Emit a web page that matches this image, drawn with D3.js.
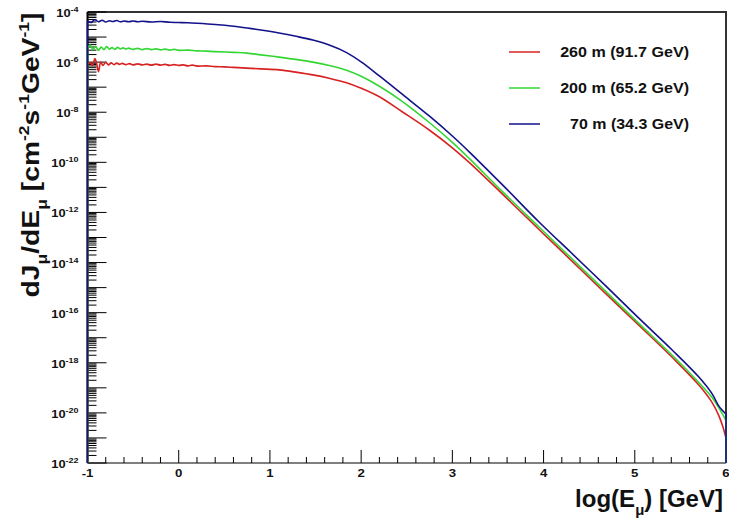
<!DOCTYPE html>
<html>
<head>
<meta charset="utf-8">
<script src="https://cdn.jsdelivr.net/npm/d3@7"></script>
<style>
  body { margin: 0; background: #fff; }
  svg { display: block; }
  text { font-family: "Liberation Sans", Arial, Helvetica, sans-serif; font-weight: bold; fill: #111; }
</style>
</head>
<body>
<svg id="chart" width="729" height="518"></svg>
<script>
// Muon flux spectra dJ/dE vs log10(E) for three depths (log10 of flux at each energy)
const logE260 = [-1.00,-0.97,-0.945,-0.92,-0.90,-0.88,-0.855,-0.83,-0.80,-0.77,-0.74,-0.71,-0.68,-0.65,-0.62,-0.58,-0.54,-0.50,-0.45,-0.40,-0.35,-0.30,-0.25,-0.20,-0.15,-0.10,-0.05,0.00,0.05,0.10,0.15,0.20,0.30,0.40,0.50,0.60,0.75,0.90,1.10,1.30,1.47,1.65,1.84,2.00,2.20,2.45,2.75,3.00,3.19,3.55,3.95,4.30,4.69,5.05,5.41,5.70,5.85,5.92,5.97,6.00];
const logJ260 = [-6.08,-6.03,-6.13,-5.86,-6.05,-6.38,-6.00,-6.13,-6.01,-6.11,-6.03,-6.10,-6.04,-6.09,-6.05,-6.10,-6.06,-6.11,-6.07,-6.11,-6.08,-6.12,-6.08,-6.12,-6.09,-6.13,-6.10,-6.13,-6.11,-6.15,-6.12,-6.16,-6.15,-6.18,-6.19,-6.21,-6.24,-6.27,-6.31,-6.41,-6.51,-6.645,-6.82,-7.04,-7.38,-7.98,-8.72,-9.42,-10.02,-11.27,-12.68,-13.90,-15.27,-16.52,-17.78,-18.88,-19.60,-20.10,-20.60,-21.00];

const logE200 = [-1.00,-0.97,-0.94,-0.91,-0.88,-0.85,-0.82,-0.79,-0.76,-0.73,-0.70,-0.67,-0.64,-0.61,-0.58,-0.55,-0.50,-0.45,-0.40,-0.35,-0.30,-0.25,-0.20,-0.15,-0.10,-0.05,0.00,0.10,0.20,0.30,0.40,0.60,0.75,0.90,1.10,1.30,1.47,1.65,1.84,2.00,2.20,2.45,2.75,3.00,3.19,3.55,3.95,4.30,4.69,5.05,5.41,5.70,5.85,5.93,6.00];
const logJ200 = [-5.44,-5.32,-5.50,-5.37,-5.53,-5.40,-5.50,-5.38,-5.48,-5.42,-5.49,-5.41,-5.47,-5.43,-5.48,-5.44,-5.49,-5.45,-5.50,-5.46,-5.50,-5.47,-5.51,-5.48,-5.52,-5.49,-5.53,-5.52,-5.55,-5.56,-5.58,-5.61,-5.64,-5.71,-5.80,-5.90,-6.00,-6.135,-6.325,-6.565,-6.965,-7.565,-8.42,-9.20,-9.86,-11.17,-12.58,-13.81,-15.18,-16.45,-17.70,-18.78,-19.40,-19.85,-20.30];

const logE70 = [-1.00,-0.96,-0.92,-0.88,-0.84,-0.80,-0.76,-0.72,-0.68,-0.64,-0.60,-0.55,-0.50,-0.45,-0.40,-0.30,-0.20,-0.10,0.00,0.10,0.20,0.40,0.60,0.75,0.90,1.10,1.30,1.47,1.65,1.84,2.00,2.20,2.45,2.75,3.00,3.19,3.55,3.95,4.30,4.69,5.05,5.41,5.70,5.85,5.92,6.00];
const logJ70 = [-4.36,-4.42,-4.31,-4.39,-4.33,-4.40,-4.35,-4.38,-4.34,-4.39,-4.36,-4.39,-4.36,-4.39,-4.37,-4.40,-4.38,-4.41,-4.42,-4.43,-4.45,-4.50,-4.57,-4.64,-4.72,-4.84,-4.98,-5.12,-5.32,-5.62,-5.99,-6.55,-7.28,-8.16,-8.95,-9.60,-10.90,-12.38,-13.60,-14.96,-16.24,-17.49,-18.56,-19.25,-19.72,-20.05];

const seriesLabels = ["260 m (91.7 GeV)", "200 m (65.2 GeV)", "70 m (34.3 GeV)"];
const seriesColors = ["#d82222", "#33d633", "#12128a"];

const xTickValues = [-1, 0, 1, 2, 3, 4, 5, 6];
const yLabelExponents = [-22, -20, -18, -16, -14, -12, -10, -8, -6, -4];

const svg = d3.select("#chart");
const W = 729, H = 518;
svg.append("rect").attr("width", W).attr("height", H).attr("fill", "#fff");

const x = d3.scaleLinear().domain([-1, 6]).range([87.5, 726]);
const y = d3.scaleLog().domain([1e-22, 1e-4]).range([463, 12]);
const yBottom = y(1e-22);

// frame (top and right)
svg.append("path")
  .attr("d", `M${x(-1)},${y(1e-4)}H${x(6)}V${yBottom}`)
  .attr("fill", "none").attr("stroke", "#333").attr("stroke-width", 2);

// x axis
const gx = svg.append("g");
gx.append("line").attr("x1", x(-1)).attr("x2", x(6)).attr("y1", yBottom).attr("y2", yBottom)
  .attr("stroke", "#000").attr("stroke-width", 1.2);
const xMinor = d3.range(-1, 6.001, 0.2).filter(v => Math.abs(v - Math.round(v)) > 1e-6);
gx.selectAll("line.minor").data(xMinor).join("line").attr("class", "minor")
  .attr("x1", d => x(d)).attr("x2", d => x(d)).attr("y1", yBottom).attr("y2", yBottom - 6)
  .attr("stroke", "#000").attr("stroke-width", 1);
gx.selectAll("line.major").data(xTickValues).join("line").attr("class", "major")
  .attr("x1", d => x(d)).attr("x2", d => x(d)).attr("y1", yBottom).attr("y2", yBottom - 13)
  .attr("stroke", "#000").attr("stroke-width", 1);
gx.selectAll("text").data(xTickValues).join("text")
  .attr("transform", d => `translate(${x(d)},${yBottom + 14}) scale(1.15,1)`)
  .attr("text-anchor", "middle").attr("font-size", 11.5)
  .text(d => d < 0 ? "-" + Math.abs(d) : d);

// y axis
const gy = svg.append("g");
gy.append("line").attr("x1", x(-1)).attr("x2", x(-1)).attr("y1", y(1e-4)).attr("y2", yBottom)
  .attr("stroke", "#000").attr("stroke-width", 2);
const decades = d3.range(-22, -3);
const yMinor = [];
decades.slice(0, -1).forEach(n => { for (let k = 2; k <= 9; k++) yMinor.push(k * Math.pow(10, n)); });
gy.selectAll("line.minor").data(yMinor).join("line").attr("class", "minor")
  .attr("x1", x(-1)).attr("x2", x(-1) + 9).attr("y1", d => y(d)).attr("y2", d => y(d))
  .attr("stroke", "#000").attr("stroke-width", 1);
gy.selectAll("line.major").data(decades).join("line").attr("class", "major")
  .attr("x1", x(-1)).attr("x2", x(-1) + 19).attr("y1", d => y(Math.pow(10, d))).attr("y2", d => y(Math.pow(10, d)))
  .attr("stroke", "#000").attr("stroke-width", 1);
const yl = gy.selectAll("text").data(yLabelExponents).join("text")
  .attr("transform", d => `translate(${x(-1) - 9},${y(Math.pow(10, d)) + 5}) scale(1.12,1)`)
  .attr("text-anchor", "end").attr("font-size", 11.5);
yl.append("tspan").text("10");
yl.append("tspan").attr("dy", -5).attr("font-size", 8).text(d => "-" + Math.abs(d));

// spectra: each outline rises from the floor at E = 10^-1 and drops back at E = 10^6
const line = d3.line().x(d => x(d[0])).y(d => y(Math.pow(10, d[1]))).curve(d3.curveCatmullRom.alpha(0.5));
const series = [
  { e: logE260, j: logJ260 },
  { e: logE200, j: logJ200 },
  { e: logE70, j: logJ70 }
];
series.forEach((s, i) => {
  const pts = s.e.map((e, k) => [e, s.j[k]]);
  const curve = line(pts);
  const d = `M${x(s.e[0])},${yBottom}L` + curve.slice(1) + `L${x(s.e[s.e.length - 1])},${yBottom}`;
  svg.append("path").attr("d", d).attr("fill", "none")
    .attr("stroke", seriesColors[i]).attr("stroke-width", 1.6).attr("stroke-linejoin", "round");
});

// horizontal stretch factor that brings a text element to a target length
function fit(textSel, target) {
  const w = textSel.node().getBBox().width;
  return target / w;
}

// legend
const legendY = [52, 88, 124];
const legendTextW = [129, 129, 119];
seriesLabels.forEach((lab, i) => {
  svg.append("line").attr("x1", 509).attr("x2", 540).attr("y1", legendY[i]).attr("y2", legendY[i])
    .attr("stroke", seriesColors[i]).attr("stroke-width", 1.5);
  const t = svg.append("text").attr("text-anchor", "end").attr("font-size", 14).text(lab);
  const s = fit(t, legendTextW[i]);
  t.attr("transform", `translate(689,${legendY[i] + 5}) scale(${s},1)`);
});

// text with sub/superscripts
function rich(sel, parts, size) {
  let off = 0;
  parts.forEach(p => {
    const target = p.sub ? size * 0.35 : p.sup ? -size * 0.42 : 0;
    const ts = sel.append("tspan").attr("dy", target - off).text(p.t);
    ts.attr("font-size", (p.sub || p.sup) ? size * 0.62 : size);
    off = target;
  });
  if (off !== 0) sel.append("tspan").attr("dy", -off).text("");
}

// y title
const yt = svg.append("text").attr("text-anchor", "middle");
rich(yt, [{t: "dJ"}, {t: "\u03bc", sub: true}, {t: "/dE"}, {t: "\u03bc", sub: true}, {t: " [cm"},
  {t: "-2", sup: true}, {t: "s"}, {t: "-1", sup: true}, {t: "GeV"}, {t: "-1", sup: true}, {t: "]"}], 23);
const ys = fit(yt, 285);
yt.attr("transform", `translate(39,155) rotate(-90) scale(${ys},1)`);

// x title
const xt = svg.append("text").attr("text-anchor", "end");
rich(xt, [{t: "log(E"}, {t: "\u03bc", sub: true}, {t: ") [GeV]"}], 24);
const xs = fit(xt, 148);
xt.attr("transform", `translate(723,507) scale(${xs},1)`);
</script>
</body>
</html>
